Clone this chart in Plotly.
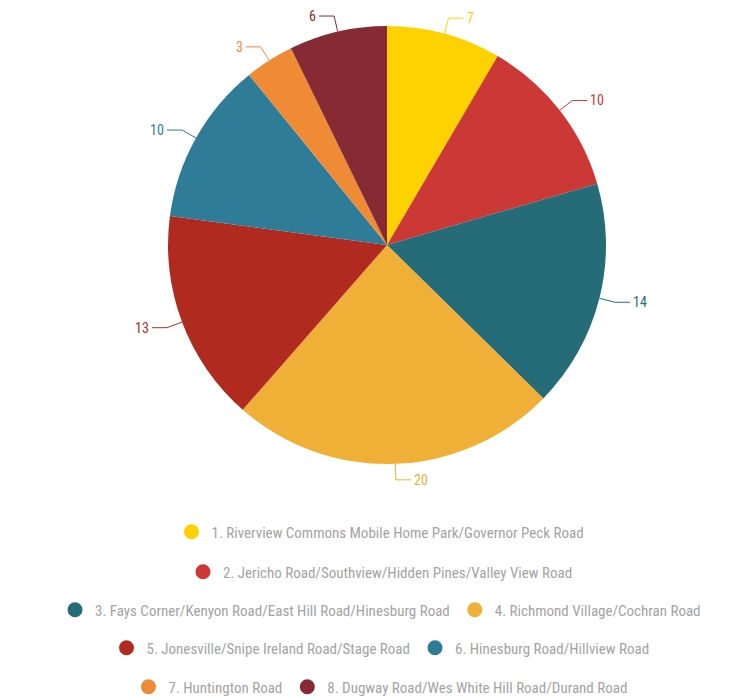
import math
import plotly.graph_objects as go

labels = [
    "1. Riverview Commons Mobile Home Park/Governor Peck Road",
    "2. Jericho Road/Southview/Hidden Pines/Valley View Road",
    "3. Fays Corner/Kenyon Road/East Hill Road/Hinesburg Road",
    "4. Richmond Village/Cochran Road",
    "5. Jonesville/Snipe Ireland Road/Stage Road",
    "6. Hinesburg Road/Hillview Road",
    "7. Huntington Road",
    "8. Dugway Road/Wes White Hill Road/Durand Road",
]
values = [7, 10, 14, 20, 13, 10, 3, 6]
colors = ["#FED201", "#CC3836", "#266B78", "#F0AF37", "#B02A1F", "#2F7C99", "#EF8B35", "#862A34"]
legend_rows = [[0], [1], [2, 3], [4, 5], [6, 7]]

W, H = 753, 700
OFF = 8  # page body margin of the written html
cx, cy, r = 387 - OFF, 245 - OFF, 219
FONT = "Roboto Condensed, Roboto, sans-serif"

def px(x):
    return x / W

def py(y):
    return 1 - y / H

fig = go.Figure()
fig.add_trace(go.Pie(
    labels=labels, values=values, sort=False, direction="clockwise", rotation=0,
    marker=dict(colors=colors, line=dict(color="white", width=0)),
    textinfo="none", hoverinfo="label+value", showlegend=False,
    domain=dict(x=[px(cx - r), px(cx + r)], y=[py(cy + r), py(cy - r)]),
))

shapes = []
annotations = []
total = sum(values)
cum = 0
for v, c in zip(values, colors):
    mid = (cum + v / 2) / total * 2 * math.pi
    cum += v
    s, co = math.sin(mid), math.cos(mid)
    x0, y0 = cx + r * s, cy - r * co
    x1, y1 = cx + (r + 16) * s, cy - (r + 16) * co
    side = 1 if s >= -1e-9 else -1
    x2 = x1 + 15 * side
    for (a, b, cc, d) in [(x0, y0, x1, y1), (x1, y1, x2, y1)]:
        shapes.append(dict(type="line", xref="paper", yref="paper",
                           x0=px(a), y0=py(b), x1=px(cc), y1=py(d),
                           line=dict(color=c, width=1)))
    annotations.append(dict(x=px(x2 + 1 * side), y=py(y1), xref="paper", yref="paper",
                            text=str(v), showarrow=False,
                            xanchor="left" if side > 0 else "right", yanchor="middle",
                            font=dict(family=FONT, size=14, color=c)))

row_y = [532 - OFF, 572 - OFF, 610 - OFF, 648 - OFF, 687 - OFF]
legends = {}
for ri, row in enumerate(legend_rows):
    key = "legend" if ri == 0 else f"legend{ri + 1}"
    for i in row:
        fig.add_trace(go.Scatter(
            x=[None], y=[None], mode="markers", name=labels[i],
            marker=dict(color=colors[i], size=15, symbol="circle"),
            legend=key, showlegend=True, hoverinfo="skip",
        ))
    legends[key] = dict(orientation="h", x=0.5 - OFF / W / 2, xanchor="center", y=py(row_y[ri]),
                        yanchor="middle", font=dict(family=FONT, size=15, color="#A3A3A3"),
                        itemsizing="trace", bgcolor="rgba(0,0,0,0)", traceorder="normal")

fig.update_layout(
    width=W, height=H, margin=dict(l=0, r=0, t=0, b=0, autoexpand=False),
    paper_bgcolor="white", plot_bgcolor="white",
    xaxis=dict(visible=False), yaxis=dict(visible=False),
    shapes=shapes, annotations=annotations,
    **legends,
)
fig.write_html("out.html")
